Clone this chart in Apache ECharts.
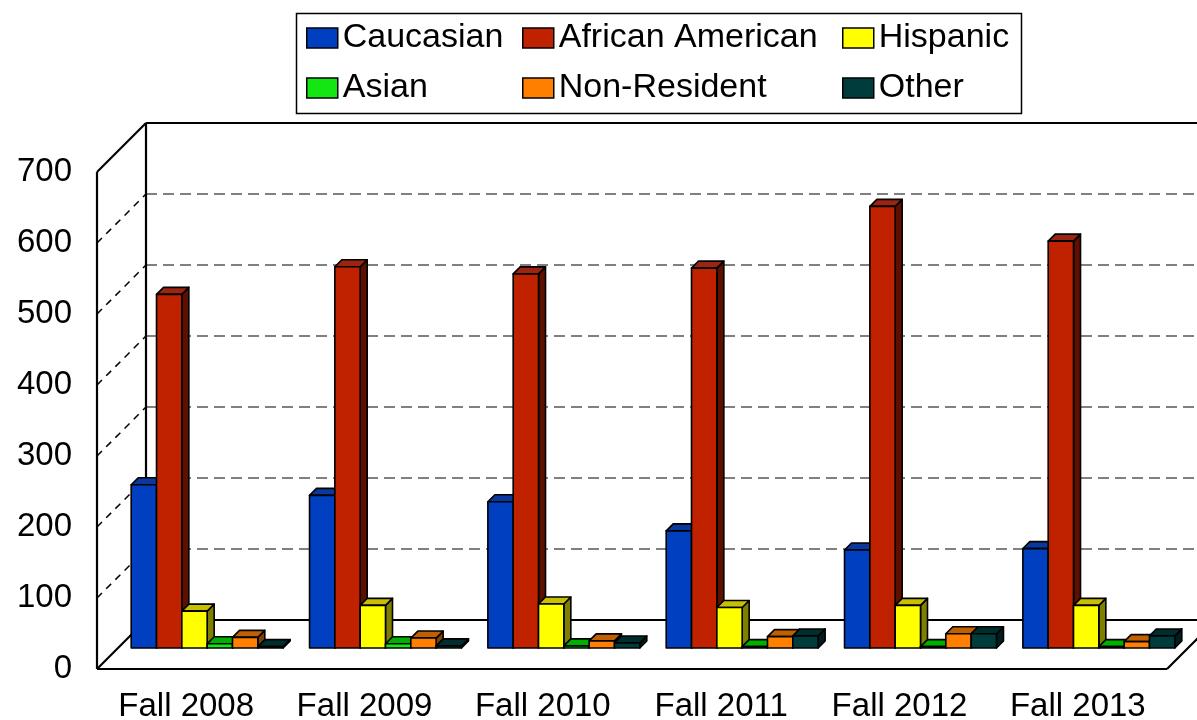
<!DOCTYPE html>
<html>
<head>
<meta charset="utf-8">
<title>Enrollment by Ethnicity, Fall 2008 - Fall 2013</title>
<script src="https://cdn.jsdelivr.net/npm/echarts@6/dist/echarts.min.js"></script>
<style>
  html, body { margin: 0; padding: 0; background: #fff; }
  #chart { width: 1197px; height: 720px; }
</style>
</head>
<body>
<div id="chart"></div>
<script>
// ---- data ----
const categories = ['Fall 2008', 'Fall 2009', 'Fall 2010', 'Fall 2011', 'Fall 2012', 'Fall 2013'];
const seriesNames = ['Caucasian', 'African American', 'Hispanic', 'Asian', 'Non-Resident', 'Other'];
const caucasian       = [230, 215, 206, 165, 138, 140];
const africanAmerican = [498, 537, 527, 535, 622, 573];
const hispanic        = [52, 60, 62, 57, 60, 60];
const asian           = [6, 6, 3, 2, 2, 2];
const nonResident     = [15, 14, 10, 16, 20, 9];
const other           = [2, 3, 7, 17, 20, 17];
const yTicks = [0, 100, 200, 300, 400, 500, 600, 700];

// ---- styling ----
const FONT = '"Liberation Sans", Arial, sans-serif';
const PALETTE = [
  { front: '#0040C0', top: '#0A389C', side: '#002470' },
  { front: '#C02200', top: '#9C2412', side: '#5E1000' },
  { front: '#FFFF00', top: '#C8C000', side: '#808000' },
  { front: '#14E614', top: '#00B000', side: '#007000' },
  { front: '#FF8000', top: '#C06000', side: '#804000' },
  { front: '#003C3C', top: '#002E2E', side: '#001E1E' }
];
const WALL_DEPTH = 49;   // px offset from front plane to back wall
const BAR_SHIFT = 21;    // px offset of the bar row from the front plane
const BAR_DEPTH = 7;     // px depth of each bar
const BAR_FRAC = 0.142;  // bar width as fraction of a category band

const allValues = [caucasian, africanAmerican, hispanic, asian, nonResident, other];

// walls, floor and gridlines of the 3D box
function renderFrame(params, api) {
  const cs = params.coordSys;
  const x = cs.x, w = cs.width, D = WALL_DEPTH;
  const y = v => api.coord([0, v])[1];
  const yTop = y(yTicks[yTicks.length - 1]);
  const yBot = y(yTicks[0]);
  const solid = { stroke: '#000', lineWidth: 2.2, fill: null };
  const line = (x1, y1, x2, y2, style) => ({ type: 'line', shape: { x1, y1, x2, y2 }, style });
  const children = [];
  yTicks.slice(1, -1).forEach(v => {
    const yy = y(v);
    children.push(line(x + D, yy - D, x + w + D, yy - D,
      { stroke: '#808080', lineWidth: 2, lineDash: [11, 6] }));
    children.push(line(x, yy, x + D, yy - D,
      { stroke: '#000', lineWidth: 1.5, lineDash: [7, 6] }));
  });
  children.push(line(x, yTop, x, yBot, solid));
  children.push(line(x, yTop, x + D, yTop - D, solid));
  children.push(line(x + D, yTop - D, x + w + D, yTop - D, solid));
  children.push(line(x + D, yTop - D, x + D, yBot - D, solid));
  children.push(line(x + D, yBot - D, x + w + D, yBot - D, solid));
  children.push(line(x, yBot, x + w, yBot, solid));
  children.push(line(x, yBot, x + D, yBot - D, solid));
  children.push(line(x + w, yBot, x + w + D, yBot - D, solid));
  return { type: 'group', children };
}

function makeBarSeries(name, values, idx) {
  const c = PALETTE[idx];
  return {
    type: 'custom',
    name,
    data: values.map((v, i) => [i, v]),
    encode: { x: 0, y: 1 },
    itemStyle: { color: c.front },
    clip: false,
    silent: true,
    renderItem(params, api) {
      const ci = api.value(0), v = api.value(1);
      const base = api.coord([ci, 0]);
      const top = api.coord([ci, v]);
      const bw = api.size([1, 0])[0] * BAR_FRAC;
      const x0 = base[0] - 3 * bw + idx * bw + BAR_SHIFT;
      const yb = base[1] - BAR_SHIFT;
      const yt = top[1] - BAR_SHIFT;
      const d = BAR_DEPTH;
      const st = { stroke: '#000', lineWidth: 1.6, lineJoin: 'round' };
      return {
        type: 'group',
        children: [
          { type: 'polygon', shape: { points: [[x0 + bw, yt], [x0 + bw + d, yt - d], [x0 + bw + d, yb - d], [x0 + bw, yb]] },
            style: Object.assign({ fill: c.side }, st) },
          { type: 'polygon', shape: { points: [[x0, yt], [x0 + bw, yt], [x0 + bw + d, yt - d], [x0 + d, yt - d]] },
            style: Object.assign({ fill: c.top }, st) },
          { type: 'rect', shape: { x: x0, y: yt, width: bw, height: yb - yt },
            style: Object.assign({ fill: c.front }, st) }
        ]
      };
    }
  };
}

const legendBase = {
  orient: 'vertical',
  top: 18,
  padding: 0,
  itemWidth: 31,
  itemHeight: 20,
  itemGap: 10,
  icon: 'rect',
  selectedMode: false,
  itemStyle: { borderColor: '#000', borderWidth: 1.5 },
  textStyle: { fontFamily: FONT, fontSize: 34, color: '#000', lineHeight: 40 }
};

const option = {
  animation: false,
  backgroundColor: '#fff',
  textStyle: { fontFamily: FONT },
  grid: { left: 97, right: 30, top: 172, bottom: 51, containLabel: false, outerBoundsMode: 'none' },
  legend: [
    Object.assign({}, legendBase, { left: 306, data: [seriesNames[0], seriesNames[3]] }),
    Object.assign({}, legendBase, { left: 522, data: [seriesNames[1], seriesNames[4]] }),
    Object.assign({}, legendBase, { left: 842, data: [seriesNames[2], seriesNames[5]] })
  ],
  graphic: [{
    type: 'rect', left: 294, top: 11, silent: true,
    shape: { width: 725, height: 100 },
    style: { fill: 'none', stroke: '#000', lineWidth: 1.5 }
  }],
  xAxis: {
    type: 'category',
    data: categories,
    axisLine: { show: false },
    axisTick: { show: false },
    splitLine: { show: false },
    axisLabel: { fontSize: 33, color: '#000', margin: 21, fontFamily: FONT }
  },
  yAxis: {
    type: 'value',
    min: yTicks[0],
    max: yTicks[yTicks.length - 1],
    interval: 100,
    axisLine: { show: false },
    axisTick: { show: false },
    splitLine: { show: false },
    axisLabel: { fontSize: 33, color: '#000', margin: 25, fontFamily: FONT }
  },
  series: [
    { type: 'custom', name: 'frame', data: [[0, 0]], encode: { x: 0, y: 1 }, clip: false, silent: true, renderItem: renderFrame }
  ].concat(seriesNames.map((n, i) => makeBarSeries(n, allValues[i], i)))
};

const chart = echarts.init(document.getElementById('chart'), null, { renderer: 'canvas' });
chart.setOption(option);
</script>
</body>
</html>
